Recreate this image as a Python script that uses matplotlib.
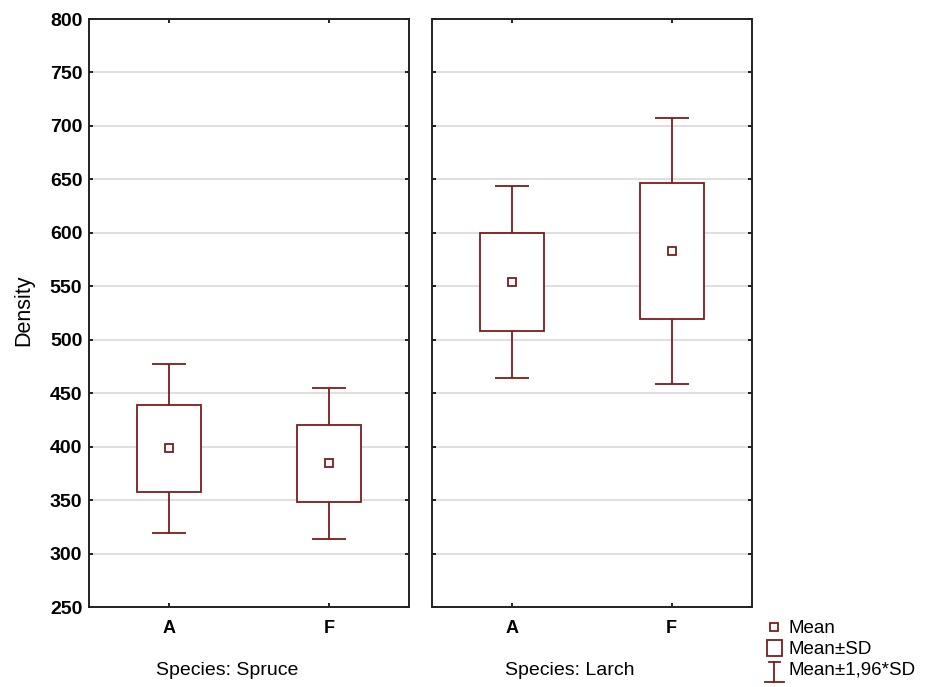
import numpy as np
import matplotlib
matplotlib.use("Agg")
import matplotlib.pyplot as plt
from matplotlib.patches import Rectangle
from matplotlib.lines import Line2D
from matplotlib.legend_handler import HandlerBase

# density summary per species and treatment
species = ["Spruce", "Larch"]
groups = ["A", "F"]
means = {"Spruce": [398.3, 384.3], "Larch": [554.0, 583.0]}
sds = {"Spruce": [40.3, 36.2], "Larch": [45.7, 63.4]}
yticks = list(range(250, 801, 50))

red = "#7d1c1c"
lw = 1.3
plt.rcParams["font.family"] = ["Liberation Sans", "DejaVu Sans"]


class WhiskerHandler(HandlerBase):
    # I-beam symbol for the 1.96*SD range
    def create_artists(self, legend, orig_handle, xdescent, ydescent,
                       width, height, fontsize, trans):
        cx = width / 2 - xdescent
        y0, y1 = -ydescent - 0.55 * height, -ydescent + 1.0 * height
        stem = Line2D([cx, cx], [y0, y1], color=red, lw=lw, transform=trans)
        lo = Line2D([cx - 7, cx + 7], [y0, y0], color=red, lw=lw, transform=trans)
        hi = Line2D([cx - 4, cx + 4], [y1, y1], color=red, lw=lw, transform=trans)
        return [stem, lo, hi]


class BoxHandler(HandlerBase):
    def create_artists(self, legend, orig_handle, xdescent, ydescent,
                       width, height, fontsize, trans):
        r = Rectangle((width / 2 - 5.5 - xdescent, -ydescent - 0.15 * height), 11, 1.2 * height,
                      facecolor="white", edgecolor=red, lw=lw, transform=trans)
        return [r]


fig = plt.figure(figsize=(9.35, 6.87), dpi=100)
lefts = [0.0955, 0.4617]
x = np.arange(len(groups))
for i, sp in enumerate(species):
    ax = fig.add_axes([lefts[i], 0.1164, 0.3422, 0.8559])
    m = np.array(means[sp])
    s = np.array(sds[sp])
    ax.errorbar(x, m, yerr=1.96 * s, fmt="none", ecolor=red, elinewidth=lw,
                capsize=12, capthick=lw, zorder=2)
    ax.bar(x, 2 * s, bottom=m - s, width=0.4, facecolor="white",
           edgecolor=red, linewidth=lw, zorder=3)
    ax.plot(x, m, "s", ms=5.5, mfc="white", mec=red, mew=lw, zorder=4)

    ax.set_xlim(-0.5, 1.5)
    ax.set_ylim(250, 800)
    ax.set_yticks(yticks)
    ax.set_xticks(x)
    ax.set_xticklabels(groups, fontsize=13, fontweight="bold")
    ax.yaxis.grid(True, color="#d9d9d9", lw=1.2)
    ax.set_axisbelow(True)
    for sp_ in ax.spines.values():
        sp_.set_linewidth(1.4)
        sp_.set_color("#222222")
    ax.tick_params(axis="x", length=3, width=1.2, top=True, direction="in", pad=9)
    ax.tick_params(axis="y", length=3, width=1.2, right=True, direction="in", pad=5)
    ax.set_xlabel(f"Species: {sp}", fontsize=14, va="top")
    ax.xaxis.set_label_coords(0.432, -0.094)
    if i == 0:
        ax.set_yticklabels([str(v) for v in yticks], fontsize=14, fontweight="bold")
    else:
        ax.set_yticklabels([])

fig.text(24 / 935, 1 - 310 / 687, "Density", rotation=90, ha="center", va="center",
         fontsize=15.5)

h_mean = Line2D([], [], ls="none", marker="s", ms=5.5, mfc="white", mec=red, mew=lw)
h_box = Rectangle((0, 0), 1, 1)
h_whisk = Line2D([], [])
fig.legend([h_mean, h_box, h_whisk], ["Mean", "Mean±SD", "Mean±1,96*SD"],
           handler_map={h_box: BoxHandler(), h_whisk: WhiskerHandler()},
           loc="upper left", bbox_to_anchor=(0.809, 0.111), frameon=False,
           fontsize=13.5, handlelength=0.9, handletextpad=0.3, labelspacing=0.2,
           borderpad=0)

fig.savefig("out.png", dpi=100)
